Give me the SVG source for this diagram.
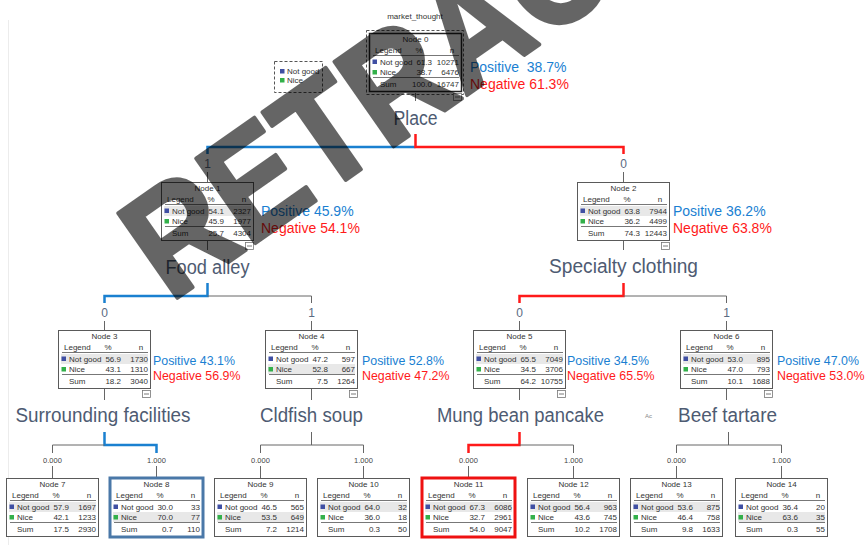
<svg xmlns="http://www.w3.org/2000/svg" width="867" height="545" viewBox="0 0 867 545">
<style>
.nb{fill:#fff;stroke:#5a5a5a;stroke-width:1}
.t{font-family:"Liberation Sans",Arial,sans-serif;font-size:8px;fill:#333}
.m{text-anchor:middle}
.e{text-anchor:end}
.hl{fill:#e8e8e8}
.sep{stroke:#777;stroke-width:1}
.sb{fill:#3f4fa3}
.sg{fill:#33b04a}
.mb{fill:#fff;stroke:#777;stroke-width:0.8}
.lbl{font-family:"Liberation Sans",Arial,sans-serif;font-size:20px;fill:#4e5b72;text-anchor:middle}
.el{font-family:"Liberation Sans",Arial,sans-serif;font-size:12px;fill:#5a6a82;text-anchor:middle}
.es{font-family:"Liberation Sans",Arial,sans-serif;font-size:7.5px;fill:#444;text-anchor:middle}
.pn{font-family:"Liberation Sans",Arial,sans-serif;white-space:pre}
.pos{fill:#1a7fd2}
.neg{fill:#ff1a1a}
.cb{stroke:#1a80d0;stroke-width:2.5;fill:none}
.cr{stroke:#ff1a1a;stroke-width:2.5;fill:none}
.cg{stroke:#666;stroke-width:1;fill:none}
</style>
<defs>
<g id="frame">
<rect class="nb" x="0.5" y="0.5" width="92" height="58"/>
<line class="sep" x1="4" y1="22.5" x2="90" y2="22.5"/>
<line class="sep" x1="4" y1="44.5" x2="90" y2="44.5"/>
</g>
<g id="hdr">
<text class="t" x="6" y="19.5">Legend</text>
<text class="t m" x="50" y="19.5">%</text>
<text class="t m" x="83" y="19.5">n</text>
<rect class="sb" x="3.5" y="26.5" width="4.5" height="4.5"/>
<text class="t" x="11" y="31.5">Not good</text>
<rect class="sg" x="3.5" y="37" width="4.5" height="4.5"/>
<text class="t" x="11" y="42">Nice</text>
<text class="t" x="11" y="54">Sum</text>
</g>
<g id="minus">
<rect class="mb" x="84.5" y="60.5" width="8" height="7"/>
<line x1="86" y1="64" x2="91" y2="64" stroke="#555" stroke-width="0.8"/>
</g>
</defs>

<line x1="8.5" y1="20" x2="8.5" y2="545" stroke="#ececec" stroke-width="1"/>

<g id="connectors">
<path class="cg" d="M415.5 93V101"/>
<path class="cb" d="M415.5 147H207.5V154"/>
<path class="cr" d="M415.5 134V147H623.5V154"/>
<path class="cg" d="M207.5 172V182M623.5 172V182"/>
<path class="cg" d="M207.5 241V250M623.5 241V250"/>
<path class="cb" d="M207.5 283V296H104.5V303"/>
<path class="cg" d="M207.5 296H311.5V303"/>
<path class="cr" d="M623.5 283V296H519.5V303"/>
<path class="cg" d="M623.5 296H726.5V303"/>
<path class="cg" d="M104.5 321V330M311.5 321V330M519.5 321V330M726.5 321V330"/>
<path class="cg" d="M104.5 389V400M311.5 389V400M519.5 389V400M726.5 389V400"/>
<path class="cb" d="M104.5 432V445H156.5V453"/>
<path class="cg" d="M104.5 445H52.5V453"/>
<path class="cg" d="M311.5 432V445M260.5 453V445H363.5V453"/>
<path class="cr" d="M519.5 432V445H468.5V453"/>
<path class="cg" d="M519.5 445H573.5V453"/>
<path class="cg" d="M728.5 432V445M676.5 453V445H781.5V453"/>
<path class="cg" d="M52.5 466V478M156.5 466V478M260.5 466V478M363.5 466V478M468.5 466V478M573.5 466V478M676.5 466V478M781.5 466V478"/>
<text class="el" x="207.5" y="168" font-size="13">1</text>
<text class="el" x="623.5" y="168" font-size="13">0</text>
<text class="el" x="104.5" y="317">0</text>
<text class="el" x="311.5" y="317">1</text>
<text class="el" x="519.5" y="317">0</text>
<text class="el" x="726.5" y="317">1</text>
<text class="es" x="52.5" y="463">0.000</text>
<text class="es" x="156.5" y="463">1.000</text>
<text class="es" x="260.5" y="463">0.000</text>
<text class="es" x="363.5" y="463">1.000</text>
<text class="es" x="468.5" y="463">0.000</text>
<text class="es" x="573.5" y="463">1.000</text>
<text class="es" x="676.5" y="463">0.000</text>
<text class="es" x="781.5" y="463">1.000</text>
</g>

<text class="t m" x="415" y="19">market_thought</text>

<g id="legend">
<rect x="274.5" y="61.5" width="48" height="31" fill="#fff" stroke="#555" stroke-dasharray="3,2"/>
<rect class="sb" x="280" y="69" width="4.5" height="4.5"/>
<text class="t" x="287" y="74">Not good</text>
<rect class="sg" x="280" y="78" width="4.5" height="4.5"/>
<text class="t" x="287" y="83">Nice</text>
</g>

<g id="node0">
<rect x="366.5" y="30.5" width="97" height="64" fill="none" stroke="#555" stroke-dasharray="3,2"/>
<g transform="translate(369,33)">
<rect class="hl" x="3" y="24" width="87" height="10"/>
<use href="#frame"/><rect x="0.5" y="0.5" width="92" height="58" fill="none" stroke="#222" stroke-width="1.5"/>
<use href="#hdr"/><use href="#minus"/>
<text class="t m" x="46.5" y="8.5">Node 0</text>
<text class="t e" x="63" y="31.5">61.3</text><text class="t e" x="90" y="31.5">10271</text>
<text class="t e" x="63" y="42">38.7</text><text class="t e" x="90" y="42">6476</text>
<text class="t e" x="63" y="54">100.0</text><text class="t e" x="90" y="54">16747</text>
</g>
<text class="pn pos" x="470" y="72" font-size="14">Positive  38.7%</text>
<text class="pn neg" x="470" y="89" font-size="14">Negative 61.3%</text>
<text class="lbl" x="415.5" y="125" textLength="44" lengthAdjust="spacingAndGlyphs">Place</text>
</g>

<g id="node1">
<g transform="translate(161,182)">
<use href="#frame"/><rect class="hl" x="3" y="24" width="87" height="10"/><line class="sep" x1="4" y1="22.5" x2="90" y2="22.5"/>
<use href="#hdr"/><use href="#minus"/>
<text class="t m" x="46.5" y="8.5">Node 1</text>
<text class="t e" x="63" y="31.5">54.1</text><text class="t e" x="90" y="31.5">2327</text>
<text class="t e" x="63" y="42">45.9</text><text class="t e" x="90" y="42">1977</text>
<text class="t e" x="63" y="54">25.7</text><text class="t e" x="90" y="54">4304</text>
</g>
<text class="pn pos" x="261" y="216" font-size="14">Positive 45.9%</text>
<text class="pn neg" x="261" y="233" font-size="14">Negative 54.1%</text>
<text class="lbl" x="207.5" y="274" textLength="84" lengthAdjust="spacingAndGlyphs">Food alley</text>
</g>

<g id="node2">
<g transform="translate(577,182)">
<use href="#frame"/><rect class="hl" x="3" y="24" width="87" height="10"/><line class="sep" x1="4" y1="22.5" x2="90" y2="22.5"/>
<use href="#hdr"/><use href="#minus"/>
<text class="t m" x="46.5" y="8.5">Node 2</text>
<text class="t e" x="63" y="31.5">63.8</text><text class="t e" x="90" y="31.5">7944</text>
<text class="t e" x="63" y="42">36.2</text><text class="t e" x="90" y="42">4499</text>
<text class="t e" x="63" y="54">74.3</text><text class="t e" x="90" y="54">12443</text>
</g>
<text class="pn pos" x="673" y="216" font-size="14">Positive 36.2%</text>
<text class="pn neg" x="673" y="233" font-size="14">Negative 63.8%</text>
<text class="lbl" x="623.5" y="273" textLength="149" lengthAdjust="spacingAndGlyphs">Specialty clothing</text>
</g>

<g id="node3">
<g transform="translate(58,330)">
<use href="#frame"/><rect class="hl" x="3" y="24" width="87" height="10"/><line class="sep" x1="4" y1="22.5" x2="90" y2="22.5"/>
<use href="#hdr"/><use href="#minus"/>
<text class="t m" x="46.5" y="8.5">Node 3</text>
<text class="t e" x="63" y="31.5">56.9</text><text class="t e" x="90" y="31.5">1730</text>
<text class="t e" x="63" y="42">43.1</text><text class="t e" x="90" y="42">1310</text>
<text class="t e" x="63" y="54">18.2</text><text class="t e" x="90" y="54">3040</text>
</g>
<text class="pn pos" x="153" y="365" font-size="12.4">Positive 43.1%</text>
<text class="pn neg" x="153" y="380" font-size="12.4">Negative 56.9%</text>
<text class="lbl" x="103" y="422" textLength="175" lengthAdjust="spacingAndGlyphs">Surrounding facilities</text>
</g>

<g id="node4">
<g transform="translate(265,330)">
<use href="#frame"/><rect class="hl" x="3" y="34" width="87" height="10"/><line class="sep" x1="4" y1="44.5" x2="90" y2="44.5"/>
<use href="#hdr"/><use href="#minus"/>
<text class="t m" x="46.5" y="8.5">Node 4</text>
<text class="t e" x="63" y="31.5">47.2</text><text class="t e" x="90" y="31.5">597</text>
<text class="t e" x="63" y="42">52.8</text><text class="t e" x="90" y="42">667</text>
<text class="t e" x="63" y="54">7.5</text><text class="t e" x="90" y="54">1264</text>
</g>
<text class="pn pos" x="362" y="365" font-size="12.4">Positive 52.8%</text>
<text class="pn neg" x="362" y="380" font-size="12.4">Negative 47.2%</text>
<text class="lbl" x="311.5" y="422" textLength="103" lengthAdjust="spacingAndGlyphs">Cldfish soup</text>
</g>

<g id="node5">
<g transform="translate(473,330)">
<use href="#frame"/><rect class="hl" x="3" y="24" width="87" height="10"/><line class="sep" x1="4" y1="22.5" x2="90" y2="22.5"/>
<use href="#hdr"/><use href="#minus"/>
<text class="t m" x="46.5" y="8.5">Node 5</text>
<text class="t e" x="63" y="31.5">65.5</text><text class="t e" x="90" y="31.5">7049</text>
<text class="t e" x="63" y="42">34.5</text><text class="t e" x="90" y="42">3706</text>
<text class="t e" x="63" y="54">64.2</text><text class="t e" x="90" y="54">10755</text>
</g>
<text class="pn pos" x="567" y="365" font-size="12.4">Positive 34.5%</text>
<text class="pn neg" x="567" y="380" font-size="12.4">Negative 65.5%</text>
<text class="lbl" x="520.5" y="422" textLength="167" lengthAdjust="spacingAndGlyphs">Mung bean pancake</text>
<text x="645" y="418" font-family="Liberation Sans,Arial,sans-serif" font-size="6" fill="#888">Ac</text>
</g>

<g id="node6">
<g transform="translate(680,330)">
<use href="#frame"/><rect class="hl" x="3" y="24" width="87" height="10"/><line class="sep" x1="4" y1="22.5" x2="90" y2="22.5"/>
<use href="#hdr"/><use href="#minus"/>
<text class="t m" x="46.5" y="8.5">Node 6</text>
<text class="t e" x="63" y="31.5">53.0</text><text class="t e" x="90" y="31.5">895</text>
<text class="t e" x="63" y="42">47.0</text><text class="t e" x="90" y="42">793</text>
<text class="t e" x="63" y="54">10.1</text><text class="t e" x="90" y="54">1688</text>
</g>
<text class="pn pos" x="777" y="365" font-size="12.4">Positive 47.0%</text>
<text class="pn neg" x="777" y="380" font-size="12.4">Negative 53.0%</text>
<text class="lbl" x="727.5" y="422" textLength="99" lengthAdjust="spacingAndGlyphs">Beef tartare</text>
</g>

<g id="node7" transform="translate(6,478)">
<use href="#frame"/><rect class="hl" x="3" y="24" width="87" height="10"/><line class="sep" x1="4" y1="22.5" x2="90" y2="22.5"/>
<use href="#hdr"/>
<text class="t m" x="46.5" y="8.5">Node 7</text>
<text class="t e" x="63" y="31.5">57.9</text><text class="t e" x="90" y="31.5">1697</text>
<text class="t e" x="63" y="42">42.1</text><text class="t e" x="90" y="42">1233</text>
<text class="t e" x="63" y="54">17.5</text><text class="t e" x="90" y="54">2930</text>
</g>

<g id="node8" transform="translate(110,478)">
<use href="#frame"/><rect class="hl" x="3" y="34" width="87" height="10"/><line class="sep" x1="4" y1="44.5" x2="90" y2="44.5"/>
<rect x="0" y="0" width="93" height="59" fill="none" stroke="#4a78a8" stroke-width="3"/>
<use href="#hdr"/>
<text class="t m" x="46.5" y="8.5">Node 8</text>
<text class="t e" x="63" y="31.5">30.0</text><text class="t e" x="90" y="31.5">33</text>
<text class="t e" x="63" y="42">70.0</text><text class="t e" x="90" y="42">77</text>
<text class="t e" x="63" y="54">0.7</text><text class="t e" x="90" y="54">110</text>
</g>

<g id="node9" transform="translate(214,478)">
<use href="#frame"/><rect class="hl" x="3" y="34" width="87" height="10"/><line class="sep" x1="4" y1="44.5" x2="90" y2="44.5"/>
<use href="#hdr"/>
<text class="t m" x="46.5" y="8.5">Node 9</text>
<text class="t e" x="63" y="31.5">46.5</text><text class="t e" x="90" y="31.5">565</text>
<text class="t e" x="63" y="42">53.5</text><text class="t e" x="90" y="42">649</text>
<text class="t e" x="63" y="54">7.2</text><text class="t e" x="90" y="54">1214</text>
</g>

<g id="node10" transform="translate(317,478)">
<use href="#frame"/><rect class="hl" x="3" y="24" width="87" height="10"/><line class="sep" x1="4" y1="22.5" x2="90" y2="22.5"/>
<use href="#hdr"/>
<text class="t m" x="46.5" y="8.5">Node 10</text>
<text class="t e" x="63" y="31.5">64.0</text><text class="t e" x="90" y="31.5">32</text>
<text class="t e" x="63" y="42">36.0</text><text class="t e" x="90" y="42">18</text>
<text class="t e" x="63" y="54">0.3</text><text class="t e" x="90" y="54">50</text>
</g>

<g id="node11" transform="translate(422,478)">
<use href="#frame"/><rect class="hl" x="3" y="24" width="87" height="10"/><line class="sep" x1="4" y1="22.5" x2="90" y2="22.5"/>
<rect x="0" y="0" width="93" height="59" fill="none" stroke="#ee1111" stroke-width="3"/>
<use href="#hdr"/>
<text class="t m" x="46.5" y="8.5">Node 11</text>
<text class="t e" x="63" y="31.5">67.3</text><text class="t e" x="90" y="31.5">6086</text>
<text class="t e" x="63" y="42">32.7</text><text class="t e" x="90" y="42">2961</text>
<text class="t e" x="63" y="54">54.0</text><text class="t e" x="90" y="54">9047</text>
</g>

<g id="node12" transform="translate(527,478)">
<use href="#frame"/><rect class="hl" x="3" y="24" width="87" height="10"/><line class="sep" x1="4" y1="22.5" x2="90" y2="22.5"/>
<use href="#hdr"/>
<text class="t m" x="46.5" y="8.5">Node 12</text>
<text class="t e" x="63" y="31.5">56.4</text><text class="t e" x="90" y="31.5">963</text>
<text class="t e" x="63" y="42">43.6</text><text class="t e" x="90" y="42">745</text>
<text class="t e" x="63" y="54">10.2</text><text class="t e" x="90" y="54">1708</text>
</g>

<g id="node13" transform="translate(630,478)">
<use href="#frame"/><rect class="hl" x="3" y="24" width="87" height="10"/><line class="sep" x1="4" y1="22.5" x2="90" y2="22.5"/>
<use href="#hdr"/>
<text class="t m" x="46.5" y="8.5">Node 13</text>
<text class="t e" x="63" y="31.5">53.6</text><text class="t e" x="90" y="31.5">875</text>
<text class="t e" x="63" y="42">46.4</text><text class="t e" x="90" y="42">758</text>
<text class="t e" x="63" y="54">9.8</text><text class="t e" x="90" y="54">1633</text>
</g>

<g id="node14" transform="translate(735,478)">
<use href="#frame"/><rect class="hl" x="3" y="34" width="87" height="10"/><line class="sep" x1="4" y1="44.5" x2="90" y2="44.5"/>
<use href="#hdr"/>
<text class="t m" x="46.5" y="8.5">Node 14</text>
<text class="t e" x="63" y="31.5">36.4</text><text class="t e" x="90" y="31.5">20</text>
<text class="t e" x="63" y="42">63.6</text><text class="t e" x="90" y="42">35</text>
<text class="t e" x="63" y="54">0.3</text><text class="t e" x="90" y="54">55</text>
</g>

<g id="watermark" opacity="0.6">
<text transform="translate(170,303) rotate(-35) scale(0.88,1)" font-family="Liberation Sans,Arial,sans-serif" font-weight="bold" font-size="150" fill="#000" stroke="#000" stroke-width="4" stroke-linejoin="round">RETRACTED</text>
</g>
</svg>
